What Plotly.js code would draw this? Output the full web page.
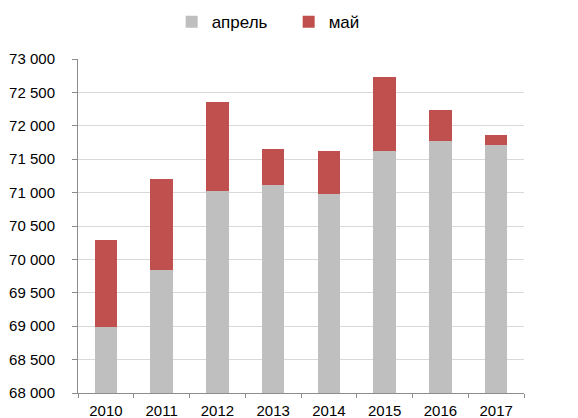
<!DOCTYPE html>
<html>
<head>
<meta charset="utf-8">
<script src="https://cdn.plot.ly/plotly-3.0.1.min.js"></script>
<style>
  html, body { margin: 0; padding: 0; background: #fff; }
  #chart { width: 578px; height: 418px; }
</style>
</head>
<body>
<div id="chart"></div>
<script>
// data
var years = ["2010", "2011", "2012", "2013", "2014", "2015", "2016", "2017"];
var april = [68990, 69840, 71020, 71120, 70980, 71630, 71770, 71720];
var may = [1300, 1360, 1340, 540, 640, 1100, 470, 140];
var yTicks = [68000, 68500, 69000, 69500, 70000, 70500, 71000, 71500, 72000, 72500, 73000];

var gray = "#BFBFBF";
var red = "#C0504D";

var traces = [
  {
    type: "bar",
    name: "апрель",
    x: years,
    y: april,
    marker: { color: gray },
    hoverinfo: "none"
  },
  {
    type: "bar",
    name: "май",
    x: years,
    y: may,
    marker: { color: red },
    hoverinfo: "none"
  }
];

var layout = {
  width: 578,
  height: 418,
  barmode: "stack",
  bargap: 0.6,
  separators: ", ",
  font: { family: "Liberation Sans, Arial, sans-serif", size: 15, color: "#000" },
  paper_bgcolor: "#fff",
  plot_bgcolor: "#fff",
  margin: { l: 78, r: 54, t: 59, b: 25, autoexpand: false },
  showlegend: true,
  legend: {
    orientation: "h",
    xref: "container",
    yref: "container",
    x: 0.297,
    xanchor: "left",
    y: 0.947,
    yanchor: "middle",
    font: { size: 17 },
    entrywidth: 72,
    traceorder: "normal"
  },
  xaxis: {
    type: "category",
    showline: true,
    linecolor: "#8c8c8c",
    linewidth: 1,
    ticks: "outside",
    tickson: "boundaries",
    ticklen: 4,
    tickcolor: "#8c8c8c",
    showgrid: false,
    ticklabelstandoff: 4,
    tickfont: { size: 15 }
  },
  yaxis: {
    range: [68000, 73000],
    tickvals: yTicks,
    tickformat: ",d",
    showline: true,
    linecolor: "#8c8c8c",
    linewidth: 1,
    ticks: "outside",
    ticklen: 5,
    tickcolor: "#8c8c8c",
    showgrid: true,
    gridcolor: "#d9d9d9",
    zeroline: false,
    ticklabelstandoff: 14,
    tickfont: { size: 15 }
  }
};

Plotly.newPlot("chart", traces, layout, { displayModeBar: false, staticPlot: true });
</script>
</body>
</html>
